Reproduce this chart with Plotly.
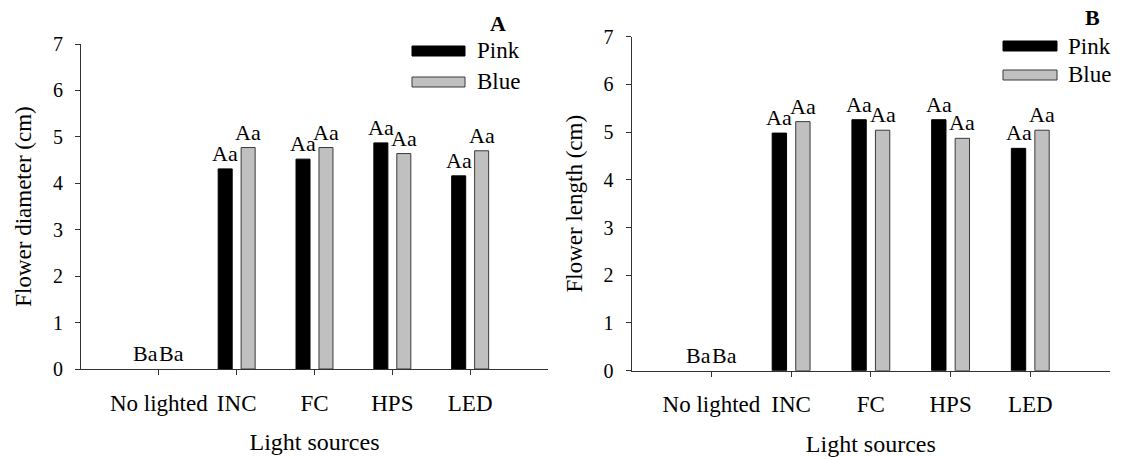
import plotly.graph_objects as go

categories = ["No lighted", "INC", "FC", "HPS", "LED"]
series_names = ["Pink", "Blue"]

diam_pink = [0, 4.31, 4.52, 4.87, 4.16]
diam_blue = [0, 4.77, 4.77, 4.64, 4.70]
diam_pink_lbl = ["Ba", "Aa", "Aa", "Aa", "Aa"]
diam_blue_lbl = ["Ba", "Aa", "Aa", "Aa", "Aa"]

len_pink = [0, 4.98, 5.26, 5.26, 4.66]
len_blue = [0, 5.22, 5.04, 4.87, 5.04]
len_pink_lbl = ["Ba", "Aa", "Aa", "Aa", "Aa"]
len_blue_lbl = ["Ba", "Aa", "Aa", "Aa", "Aa"]

y_ticks = [0, 1, 2, 3, 4, 5, 6, 7]

W, H = 1122, 457
FONT = "Liberation Serif, Times New Roman, serif"
BLACK = "#000000"
GRAY = "#c0c0c0"
EDGE = "#3a3a3a"
BARGAP = 0.41
BARGROUPGAP = 0.39

domA_x = [81 / W, 548 / W]
domA_y = [1 - 369 / H, 1 - 44 / H]
domB_x = [631.7 / W, 1110 / W]
domB_y = [1 - 370.7 / H, 1 - 36.7 / H]

fig = go.Figure()

panels = [
    ("x", "y", diam_pink, diam_blue, diam_pink_lbl, diam_blue_lbl, domA_x),
    ("x2", "y2", len_pink, len_blue, len_pink_lbl, len_blue_lbl, domB_x),
]

annotations = []
for xa, ya, pink, blue, plbl, blbl, dom in panels:
    fig.add_trace(go.Bar(x=categories, y=pink, name=series_names[0], xaxis=xa, yaxis=ya,
                         marker=dict(color=BLACK,
                                     line=dict(color=BLACK, width=[1 if v > 0 else 0 for v in pink])),
                         showlegend=False))
    fig.add_trace(go.Bar(x=categories, y=blue, name=series_names[1], xaxis=xa, yaxis=ya,
                         marker=dict(color=GRAY,
                                     line=dict(color=EDGE, width=[1 if v > 0 else 0 for v in blue])),
                         showlegend=False))
    cat_px = (dom[1] - dom[0]) * W / 6.0
    off = cat_px * (1 - BARGAP) / 4.0
    for vals, lbls, sgn in ((pink, plbl, -1), (blue, blbl, 1)):
        for c, v, t in zip(categories, vals, lbls):
            annotations.append(dict(x=c, y=v, xref=xa, yref=ya, text=t, showarrow=False,
                                    xanchor="center", yanchor="bottom",
                                    xshift=sgn * (off + (1.5 if v == 0 else 0)),
                                    yshift=1, font=dict(family=FONT, size=22, color=BLACK)))

def legend_block(x0, x1, y_pink, y_blue, letter, lx, ly, tx):
    shapes = [
        dict(type="rect", xref="paper", yref="paper", x0=x0 / W, x1=x1 / W,
             y0=1 - (y_pink + 5) / H, y1=1 - (y_pink - 5) / H,
             fillcolor=BLACK, line=dict(color=BLACK, width=1)),
        dict(type="rect", xref="paper", yref="paper", x0=x0 / W, x1=x1 / W,
             y0=1 - (y_blue + 5) / H, y1=1 - (y_blue - 5) / H,
             fillcolor=GRAY, line=dict(color=EDGE, width=1)),
    ]
    anns = [
        dict(x=tx / W, y=1 - y_pink / H, xref="paper", yref="paper", text=series_names[0],
             showarrow=False, xanchor="left", yanchor="middle",
             font=dict(family=FONT, size=23, color=BLACK)),
        dict(x=tx / W, y=1 - y_blue / H, xref="paper", yref="paper", text=series_names[1],
             showarrow=False, xanchor="left", yanchor="middle",
             font=dict(family=FONT, size=23, color=BLACK)),
        dict(x=lx / W, y=1 - ly / H, xref="paper", yref="paper", text="<b>" + letter + "</b>",
             showarrow=False, xanchor="center", yanchor="middle",
             font=dict(family=FONT, size=22, color=BLACK)),
    ]
    return shapes, anns

sA, aA = legend_block(412, 465, 51, 82, "A", 498, 23, 475)
sB, aB = legend_block(1003, 1057, 46, 75, "B", 1092, 18, 1066)

axis_common = dict(showline=True, linecolor="#333333", linewidth=1.2, ticks="outside",
                   ticklen=5, tickcolor="#333333", showgrid=False, zeroline=False,
                   tickfont=dict(family=FONT, size=20, color=BLACK), automargin=False)

xcommon = dict(axis_common, type="category", range=[-1, 5],
               tickfont=dict(family=FONT, size=23, color=BLACK), ticklabelstandoff=8,
               title=dict(text="Light sources", font=dict(family=FONT, size=24, color=BLACK),
                          standoff=18))
ycommon = dict(axis_common, range=[0, 7], tickvals=y_ticks, ticklabelstandoff=8)

fig.update_layout(
    width=W, height=H,
    margin=dict(l=0, r=0, t=0, b=0),
    paper_bgcolor="white", plot_bgcolor="white",
    barmode="group", bargap=BARGAP, bargroupgap=BARGROUPGAP,
    xaxis=dict(xcommon, domain=domA_x, anchor="y"),
    yaxis=dict(ycommon, domain=domA_y, anchor="x",
               title=dict(text="Flower diameter (cm)", font=dict(family=FONT, size=23, color=BLACK),
                          standoff=14)),
    xaxis2=dict(xcommon, domain=domB_x, anchor="y2"),
    yaxis2=dict(ycommon, domain=domB_y, anchor="x2",
                title=dict(text="Flower length (cm)", font=dict(family=FONT, size=23, color=BLACK),
                           standoff=14)),
    shapes=sA + sB,
    annotations=annotations + aA + aB,
    font=dict(family=FONT, color=BLACK),
)

fig.write_html("out.html", config={"displayModeBar": False},
               post_script="document.body.style.margin='0';document.body.style.overflow='hidden';")
